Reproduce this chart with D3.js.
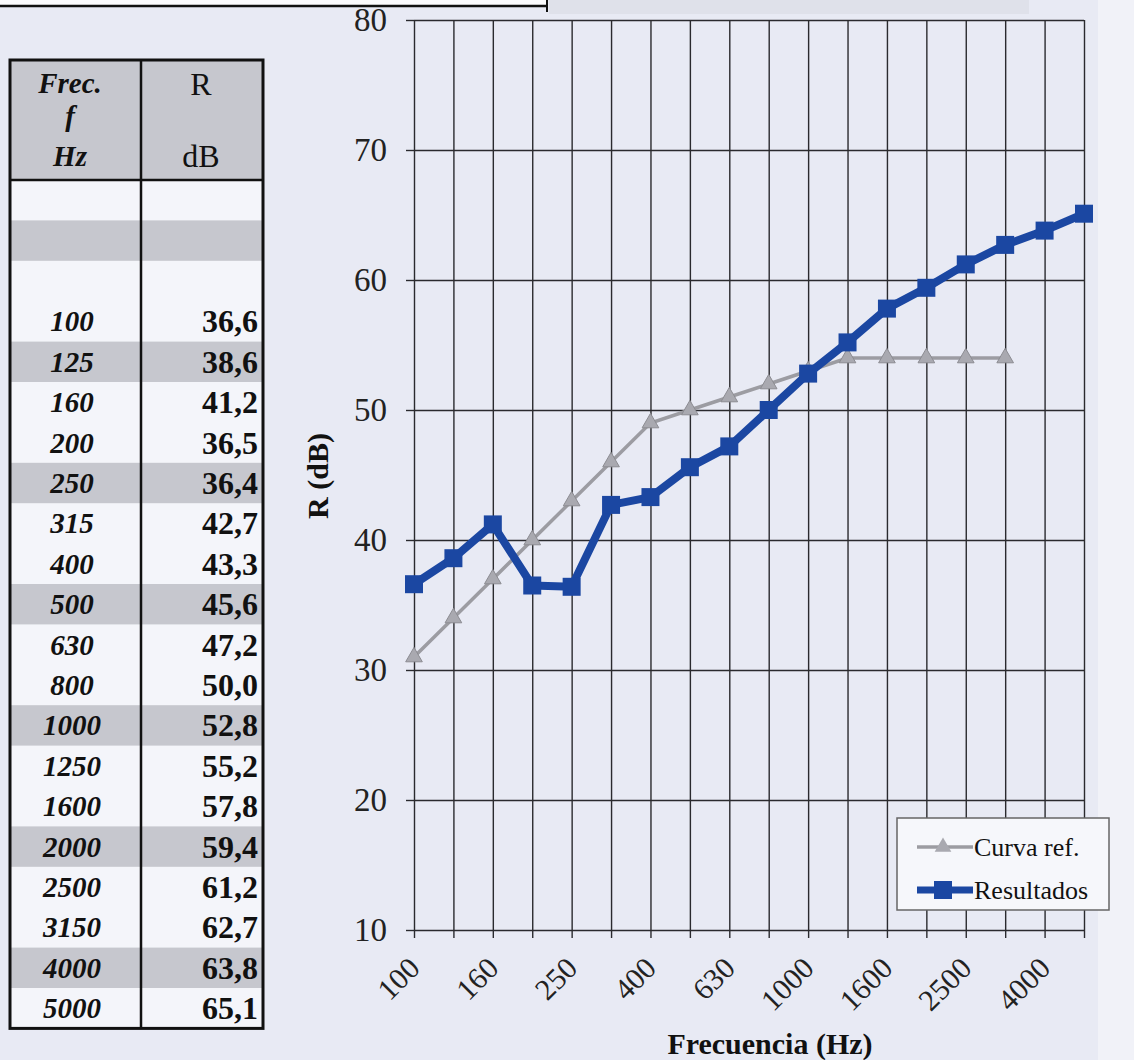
<!DOCTYPE html>
<html>
<head>
<meta charset="utf-8">
<script src="https://cdn.jsdelivr.net/npm/d3@7"></script>
<style>
  html, body { margin: 0; padding: 0; background: #e8eaf4; }
  svg { display: block; }
</style>
</head>
<body>
<svg id="chart" width="1134" height="1060"></svg>
<script>
// third-octave bands (Hz)
const freqs = [100, 125, 160, 200, 250, 315, 400, 500, 630, 800, 1000, 1250, 1600, 2000, 2500, 3150, 4000, 5000];
// measured sound reduction index R (dB)
const resultados = [36.6, 38.6, 41.2, 36.5, 36.4, 42.7, 43.3, 45.6, 47.2, 50.0, 52.8, 55.2, 57.8, 59.4, 61.2, 62.7, 63.8, 65.1];
// shifted reference curve, 100..3150 Hz
const curvaRef = [31, 34, 37, 40, 43, 46, 49, 50, 51, 52, 53, 54, 54, 54, 54, 54];
const yTicks = [10, 20, 30, 40, 50, 60, 70, 80];
const xLabels = [100, 160, 250, 400, 630, 1000, 1600, 2500, 4000];

const svg = d3.select('#chart');
const serif = '"Liberation Serif", "Times New Roman", serif';
const blue = '#1b47a2';
const grey = '#9c9ca2';

// scan leftovers along the top edge
svg.append('rect').attr('x', 0).attr('y', 0).attr('width', 546).attr('height', 6).attr('fill', '#fbfbfd');
svg.append('rect').attr('x', 549).attr('y', 0).attr('width', 480).attr('height', 14).attr('fill', '#dfe1ea');
svg.append('line').attr('x1', 0).attr('x2', 547).attr('y1', 6).attr('y2', 6)
  .attr('stroke', '#111').attr('stroke-width', 2.5);
svg.append('line').attr('x1', 547).attr('x2', 547).attr('y1', 0).attr('y2', 12)
  .attr('stroke', '#111').attr('stroke-width', 2);
svg.append('rect').attr('x', 1098).attr('y', 0).attr('width', 36).attr('height', 1060).attr('fill', '#f1f2f8');

// ---------- table ----------
const tbl = { x0: 10, x1: 263, xMid: 141, top: 60, head: 180, rowH: 40.4 };
const rows = [null, null, null, ...freqs.map((f, i) => ({ f, r: resultados[i] }))];
const tg = svg.append('g');
const tBottom = tbl.head + rows.length * tbl.rowH;

tg.append('rect').attr('x', tbl.x0).attr('y', tbl.top).attr('width', tbl.x1 - tbl.x0)
  .attr('height', tBottom - tbl.top).attr('fill', '#f4f5fa');
tg.append('rect').attr('x', tbl.x0).attr('y', tbl.top).attr('width', tbl.x1 - tbl.x0)
  .attr('height', tbl.head - tbl.top).attr('fill', '#c6c7ce');
tg.selectAll('rect.band').data(rows).join('rect')
  .attr('class', 'band')
  .attr('x', tbl.x0).attr('width', tbl.x1 - tbl.x0)
  .attr('y', (d, i) => tbl.head + i * tbl.rowH).attr('height', tbl.rowH)
  .attr('fill', (d, i) => i % 3 === 1 ? '#c6c7ce' : 'none');

const fmt = v => d3.format('.1f')(v).replace('.', ',');
const dataRows = rows.filter(d => d);
tg.selectAll('text.f').data(dataRows).join('text')
  .attr('class', 'f')
  .attr('x', 72).attr('y', (d, i) => tbl.head + (i + 3.5) * tbl.rowH + 10)
  .attr('text-anchor', 'middle')
  .attr('font-family', serif).attr('font-size', 29).attr('font-weight', 'bold').attr('font-style', 'italic')
  .attr('fill', '#111').text(d => d.f);
tg.selectAll('text.r').data(dataRows).join('text')
  .attr('class', 'r')
  .attr('x', 258).attr('y', (d, i) => tbl.head + (i + 3.5) * tbl.rowH + 11)
  .attr('text-anchor', 'end')
  .attr('font-family', serif).attr('font-size', 32).attr('font-weight', 'bold')
  .attr('fill', '#111').text(d => fmt(d.r));

const headL = [['Frec.', 93], ['f', 126], ['Hz', 166]];
tg.selectAll('text.hl').data(headL).join('text')
  .attr('class', 'hl').attr('x', 70).attr('y', d => d[1]).attr('text-anchor', 'middle')
  .attr('font-family', serif).attr('font-size', 29).attr('font-weight', 'bold').attr('font-style', 'italic')
  .attr('fill', '#111').text(d => d[0]);
const headR = [['R', 95], ['dB', 167]];
tg.selectAll('text.hr').data(headR).join('text')
  .attr('class', 'hr').attr('x', 201).attr('y', d => d[1]).attr('text-anchor', 'middle')
  .attr('font-family', serif).attr('font-size', 32)
  .attr('fill', '#111').text(d => d[0]);

tg.append('line').attr('x1', tbl.x0).attr('x2', tbl.x1).attr('y1', tbl.head).attr('y2', tbl.head)
  .attr('stroke', '#111').attr('stroke-width', 2.5);
tg.append('line').attr('x1', tbl.xMid).attr('x2', tbl.xMid).attr('y1', tbl.top).attr('y2', tBottom)
  .attr('stroke', '#111').attr('stroke-width', 2.5);
tg.append('rect').attr('x', tbl.x0).attr('y', tbl.top).attr('width', tbl.x1 - tbl.x0)
  .attr('height', tBottom - tbl.top).attr('fill', 'none').attr('stroke', '#111').attr('stroke-width', 3);

// ---------- chart ----------
const x = d3.scalePoint().domain(freqs).range([414, 1084]);
const y = d3.scaleLinear().domain([10, 80]).range([930, 20]);

const grid = svg.append('g');
grid.append('g').attr('transform', 'translate(414,0)')
  .call(d3.axisLeft(y).tickValues(yTicks).tickSize(-670).tickFormat(''))
  .call(g => g.select('.domain').remove())
  .call(g => g.selectAll('line').attr('stroke', '#2a2a2e').attr('stroke-width', 1.4));
grid.append('g').attr('transform', 'translate(0,930)')
  .call(d3.axisBottom(x).tickSize(-910).tickFormat(''))
  .call(g => g.select('.domain').remove())
  .call(g => g.selectAll('line').attr('stroke', '#2a2a2e').attr('stroke-width', 1.4));

// y axis ticks + labels
svg.append('g').attr('transform', 'translate(414,0)')
  .call(d3.axisLeft(y).tickValues(yTicks).tickSize(8).tickPadding(19))
  .call(g => g.select('.domain').remove())
  .call(g => g.selectAll('line').attr('stroke', '#2a2a2e').attr('stroke-width', 1.4))
  .call(g => g.selectAll('text').attr('font-family', serif).attr('font-size', 33).attr('fill', '#222'));

// x axis ticks + rotated labels
svg.append('g').attr('transform', 'translate(0,930)')
  .call(d3.axisBottom(x).tickSize(8).tickFormat(d => xLabels.includes(d) ? d : ''))
  .call(g => g.select('.domain').remove())
  .call(g => g.selectAll('line').attr('stroke', '#2a2a2e').attr('stroke-width', 1.4))
  .call(g => g.selectAll('text')
    .attr('font-family', serif).attr('font-size', 30).attr('fill', '#222')
    .attr('text-anchor', 'end').attr('dy', 0).attr('y', 0)
    .attr('transform', 'translate(7,40) rotate(-45)'));

svg.append('text').attr('transform', 'translate(328,476) rotate(-90)')
  .attr('text-anchor', 'middle').attr('font-family', serif).attr('font-size', 30).attr('font-weight', 'bold')
  .attr('fill', '#111').text('R (dB)');
svg.append('text').attr('x', 770).attr('y', 1054)
  .attr('text-anchor', 'middle').attr('font-family', serif).attr('font-size', 30).attr('font-weight', 'bold')
  .attr('fill', '#111').text('Frecuencia (Hz)');

// series
const line = d3.line().x(d => x(d[0])).y(d => y(d[1]));
const refPts = curvaRef.map((v, i) => [freqs[i], v]);
const resPts = resultados.map((v, i) => [freqs[i], v]);
const tri = d3.symbol().type(d3.symbolTriangle).size(120);
const sq = d3.symbol().type(d3.symbolSquare).size(324);

svg.append('path').datum(refPts).attr('d', line)
  .attr('fill', 'none').attr('stroke', grey).attr('stroke-width', 3.5);
svg.selectAll('path.tri').data(refPts).join('path').attr('class', 'tri')
  .attr('d', tri).attr('transform', d => `translate(${x(d[0])},${y(d[1])})`)
  .attr('fill', '#a9a9b0').attr('stroke', '#8c8c92').attr('stroke-width', 1);

svg.append('path').datum(resPts).attr('d', line)
  .attr('fill', 'none').attr('stroke', blue).attr('stroke-width', 8).attr('stroke-linejoin', 'round');
svg.selectAll('path.sq').data(resPts).join('path').attr('class', 'sq')
  .attr('d', sq).attr('transform', d => `translate(${x(d[0])},${y(d[1])})`)
  .attr('fill', blue);

// legend
const lg = svg.append('g').attr('transform', 'translate(897,818)');
lg.append('rect').attr('width', 212).attr('height', 92)
  .attr('fill', '#f6f7fb').attr('stroke', '#666').attr('stroke-width', 1.5);
const legendItems = [
  { name: 'Curva ref.', color: grey, w: 3.5, sym: tri, fill: '#a9a9b0' },
  { name: 'Resultados', color: blue, w: 7, sym: sq, fill: blue }
];
const li = lg.selectAll('g.item').data(legendItems).join('g').attr('class', 'item')
  .attr('transform', (d, i) => `translate(0,${29 + i * 43})`);
li.append('line').attr('x1', 20).attr('x2', 76).attr('stroke', d => d.color).attr('stroke-width', d => d.w);
li.append('path').attr('d', d => d.sym()).attr('transform', 'translate(46,0)').attr('fill', d => d.fill);
li.append('text').attr('x', 77).attr('y', 9).attr('font-family', serif).attr('font-size', 26)
  .attr('fill', '#111').text(d => d.name);
</script>
</body>
</html>
